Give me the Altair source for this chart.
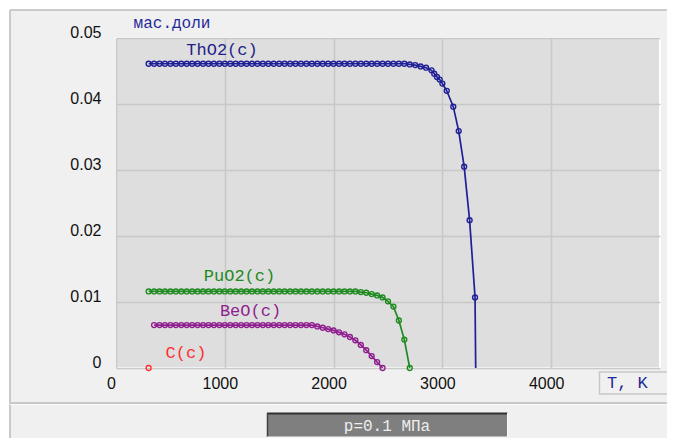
import altair as alt
import pandas as pd

# ---------------- data ----------------
th_T = [300, 350, 400, 450, 500, 550, 600, 650, 700, 750, 800, 850, 900, 950,
        1000, 1050, 1100, 1150, 1200, 1250, 1300, 1350, 1400, 1450, 1500, 1550,
        1600, 1650, 1700, 1750, 1800, 1850, 1900, 1950, 2000, 2050, 2100, 2150,
        2200, 2250, 2300, 2350, 2400, 2450, 2500, 2550, 2600, 2650, 2700, 2750,
        2800, 2850, 2900, 2925, 2950, 2975, 3000, 3040, 3100, 3150, 3200, 3250, 3300]
th_v = [0.0461, 0.0461, 0.0461, 0.0461, 0.0461, 0.0461, 0.0461, 0.0461, 0.0461, 0.0461,
        0.0461, 0.0461, 0.0461, 0.0461, 0.0461, 0.0461, 0.0461, 0.0461, 0.0461, 0.0461,
        0.0461, 0.0461, 0.0461, 0.0461, 0.0461, 0.0461, 0.0461, 0.0461, 0.0461, 0.0461,
        0.0461, 0.0461, 0.0461, 0.0461, 0.0461, 0.0461, 0.0461, 0.0461, 0.0461, 0.0461,
        0.0461, 0.0461, 0.0461, 0.0461, 0.0461, 0.0461, 0.0461, 0.0461, 0.0460, 0.0459,
        0.0457, 0.0455, 0.0451, 0.0446, 0.0441, 0.0437, 0.0431, 0.0420, 0.0396, 0.0359,
        0.0305, 0.0224, 0.0107]
th_end_T = [3306]      # the ThO2 line drops to zero here (no marker)
th_end_v = [0.0]

pu_T = [300, 350, 400, 450, 500, 550, 600, 650, 700, 750, 800, 850, 900, 950,
        1000, 1050, 1100, 1150, 1200, 1250, 1300, 1350, 1400, 1450, 1500, 1550,
        1600, 1650, 1700, 1750, 1800, 1850, 1900, 1950, 2000, 2050, 2100, 2150,
        2200, 2250, 2300, 2350, 2400, 2450, 2500, 2550, 2600, 2650, 2700]
pu_v = [0.0116, 0.0116, 0.0116, 0.0116, 0.0116, 0.0116, 0.0116, 0.0116, 0.0116, 0.0116,
        0.0116, 0.0116, 0.0116, 0.0116, 0.0116, 0.0116, 0.0116, 0.0116, 0.0116, 0.0116,
        0.0116, 0.0116, 0.0116, 0.0116, 0.0116, 0.0116, 0.0116, 0.0116, 0.0116, 0.0116,
        0.0116, 0.0116, 0.0116, 0.0116, 0.0116, 0.0116, 0.0116, 0.0116, 0.0116, 0.0115,
        0.0114, 0.0112, 0.0110, 0.0107, 0.0101, 0.0093, 0.0072, 0.0043, 0.0]

be_T = [350, 400, 450, 500, 550, 600, 650, 700, 750, 800, 850, 900, 950,
        1000, 1050, 1100, 1150, 1200, 1250, 1300, 1350, 1400, 1450, 1500, 1550,
        1600, 1650, 1700, 1750, 1800, 1850, 1900, 1950, 2000, 2050, 2100, 2150,
        2200, 2250, 2300, 2350, 2400, 2450]
be_v = [0.0065, 0.0065, 0.0065, 0.0065, 0.0065, 0.0065, 0.0065, 0.0065, 0.0065, 0.0065,
        0.0065, 0.0065, 0.0065, 0.0065, 0.0065, 0.0065, 0.0065, 0.0065, 0.0065, 0.0065,
        0.0065, 0.0065, 0.0065, 0.0065, 0.0065, 0.0065, 0.0065, 0.0065, 0.0065, 0.0065,
        0.0063, 0.0061, 0.0059, 0.0057, 0.0054, 0.0051, 0.0047, 0.0042, 0.0035, 0.0027,
        0.0018, 0.0009, 0.0]

c_T = [300]
c_v = [0.0]

series_names = ["ThO2(c)", "PuO2(c)", "BeO(c)", "C(c)"]
series_colors = ["#1f1f96", "#1f8a1f", "#8f1f8f", "#ff3030"]

x_ticks = [0, 1000, 2000, 3000, 4000]
y_ticks = [0, 0.01, 0.02, 0.03, 0.04, 0.05]

# ---------------- tables ----------------
def table(name, T, v):
    return pd.DataFrame({"series": name, "T": T, "v": v})

pts = pd.concat([table("ThO2(c)", th_T, th_v), table("PuO2(c)", pu_T, pu_v),
                 table("BeO(c)", be_T, be_v), table("C(c)", c_T, c_v)], ignore_index=True)
lines = pd.concat([pts, table("ThO2(c)", th_end_T, th_end_v)], ignore_index=True)

W, H = 544, 330

xscale = alt.Scale(domain=[0, 5000], nice=False, zero=False)
yscale = alt.Scale(domain=[0, 0.05], nice=False)
cscale = alt.Scale(domain=series_names, range=series_colors)

xaxis = alt.Axis(values=x_ticks, title=None, domain=False, ticks=False,
                 labelFont="Liberation Sans", labelFontSize=16, labelColor="#111111",
                 labelPadding=7, labelOffset=-5, labelFlush=False, labelOverlap=False,
                 gridColor="#c8c8c8", gridWidth=1.5, format="d")
yaxis = alt.Axis(values=y_ticks, title=None, domain=False, ticks=False,
                 labelFont="Liberation Sans", labelFontSize=16, labelColor="#111111",
                 labelPadding=15, labelOffset=-6, labelFlush=False, labelOverlap=False,
                 gridColor="#c8c8c8", gridWidth=1.5,
                 labelExpr="datum.value == 0 ? '0' : format(datum.value, '.2f')")

enc_x = alt.X("T:Q", scale=xscale, axis=xaxis)
enc_y = alt.Y("v:Q", scale=yscale, axis=yaxis)

line_layer = alt.Chart(lines).mark_line(strokeWidth=1.7).encode(
    x=enc_x, y=enc_y,
    color=alt.Color("series:N", scale=cscale, legend=None),
    order="T:Q")

point_layer = alt.Chart(pts).mark_point(shape="circle", filled=False, size=24,
                                        strokeWidth=1.4, opacity=1).encode(
    x="T:Q", y="v:Q",
    color=alt.Color("series:N", scale=cscale, legend=None))

one = alt.Data(values=[{}])

def text(t, x, y, color, size=17, align="center", font="Liberation Mono"):
    return alt.Chart(one).mark_text(text=t, font=font, fontSize=size, color=color,
                                    align=align, baseline="middle").encode(
        x=alt.value(x), y=alt.value(y))

def rect(x1, x2, y1, y2, fill, stroke=None, sw=1):
    kw = dict(fill=fill)
    if stroke:
        kw.update(stroke=stroke, strokeWidth=sw)
    return alt.Chart(one).mark_rect(**kw).encode(
        x=alt.value(x1), x2=alt.value(x2), y=alt.value(y1), y2=alt.value(y2))

def rule(x1, x2, y1, y2, color, sw=1):
    return alt.Chart(one).mark_rule(color=color, strokeWidth=sw).encode(
        x=alt.value(x1), x2=alt.value(x2), y=alt.value(y1), y2=alt.value(y2))

deco = [
    rect(-110, 570, -31, -28, "white"),
    rect(-110, -106.5, -31, 420, "white"),
    rule(-106, -106, -28, 420, "#bdbdbd", 1.5),
    rule(-106, 570, -28, -28, "#bdbdbd", 1.5),
    rule(-106, 570, 365, 365, "#c8c8c8", 2),
    rule(-106, 570, 366.5, 366.5, "#fafafa", 1),
    rect(483.5, 575, 334, 356, "#f0f0f0", "#c8c8c8", 1.5),
    text("T, K", 491, 345, "#1f2a9a", size=17, align="left"),
    rect(151, 391.5, 375, 399, "#7f7f7f"),
    rule(151, 391.5, 375.5, 375.5, "#303030", 2),
    rule(151.5, 151.5, 375, 399, "#404040", 1.5),
    rule(391.5, 391.5, 375, 399, "#fafafa", 1),
    rule(151, 391.5, 399, 399, "#fafafa", 1),
    text("p=0.1 МПа", 271, 387.5, "#eeeeee", size=16),
    text("мас.доли", 56, -15, "#1f2a9a", size=16),
    text("ThO2(c)", 106, 12, "#1f1f8a"),
    text("PuO2(c)", 123.5, 238, "#1f8a1f"),
    text("BeO(c)", 134.5, 273, "#8f1f8f"),
    text("C(c)", 70, 315, "#ff3030"),
]

chart = alt.layer(line_layer, point_layer, *deco).properties(
    width=W, height=H,
    autosize=alt.AutoSizeParams(type="none"),
    padding={"left": 108, "top": 30, "right": 7, "bottom": 70},
).configure(background="#f0f0f0").configure_view(
    fill="#dedede", stroke="white", strokeWidth=2)

chart.save("out.html", embed_options={"renderer": "svg", "actions": False})
